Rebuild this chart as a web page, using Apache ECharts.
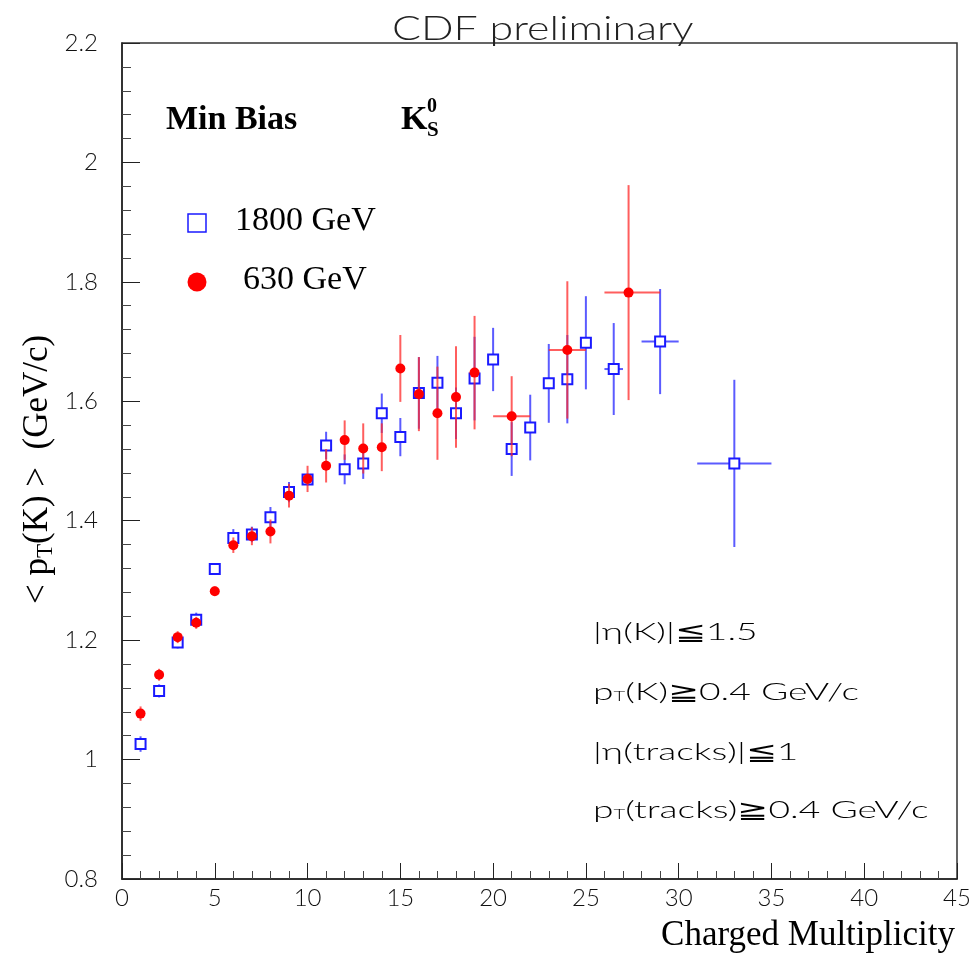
<!DOCTYPE html>
<html lang="en">
<head>
    <meta charset="UTF-8">
    <title>kshort pt</title>
    <script src="https://cdn.jsdelivr.net/npm/echarts@6/dist/echarts.min.js"></script>
    <style>body{margin:0;background:#fff}</style>
</head>
<body>
    <div id="main" style="width:976px;height:957px"></div>
<script>
    // 1800 GeV (blue open squares)
    blueX    = [1,2,3,4,5,6,7,8,9,10,11,12,13,14,15,16,17,18,19,20,21,22,23,24,25,26.5,29,33]
    blueY    = [1.026,1.115,1.196,1.234,1.319,1.371,1.377,1.406,1.448,1.469,1.526,1.486,1.496,1.580,1.540,1.614,1.631,1.580,1.638,1.670,1.520,1.556,1.630,1.637,1.698,1.654,1.700,1.496]
    blueErr  = [0.013,0.011,0.010,0.012,0.009,0.015,0.013,0.017,0.017,0.010,0.023,0.025,0.026,0.033,0.032,0.060,0.045,0.043,0.070,0.053,0.045,0.055,0.066,0.074,0.078,0.077,0.088,0.140]
    blueXLo  = [0,0,0,0,0,0,0,0,0,0,0,0,0,0,0,0,0,0,0,0,0,0,0,0,0,0.5,1,2]
    blueXHi  = [0,0,0,0,0,0,0,0,0,0,0,0,0,0,0,0,0,0,0,0,0,0,0,0,0,0.5,1,2]

    // 630 GeV (red full circles)
    redX     = [1,2,3,4,5,6,7,8,9,10,11,12,13,14,15,16,17,18,19,21,24,27.3]
    redY     = [1.077,1.142,1.205,1.229,1.282,1.359,1.374,1.382,1.442,1.470,1.492,1.535,1.521,1.523,1.655,1.612,1.580,1.607,1.648,1.575,1.686,1.782]
    redErr   = [0.012,0.010,0.010,0.010,0.008,0.013,0.015,0.020,0.020,0.022,0.028,0.033,0.042,0.040,0.056,0.062,0.078,0.085,0.095,0.067,0.115,0.180]
    redXLo   = [0,0,0,0,0,0,0,0,0,0,0,0,0,0,0,0,0,0,0,1,1,1.3]
    redXHi   = [0,0,0,0,0,0,0,0,0,0,0,0,0,0,0,0,0,0,0,1,1,1.7]

    xTicks = [0,5,10,15,20,25,30,35,40,45]
    yTicks = [0.8,1,1.2,1.4,1.6,1.8,2,2.2]

    thin = 'Lato'
    serif = 'Liberation Serif'

    pack = (X,Y,E,L,H)=>X.map((x,i)=>[x,Y[i],E[i],L[i],H[i]])

    errSeries = (name,data,kind,lineColor,markColor)=>({
        name, type:'custom', data, clip:true,
        renderItem:(params,api)=>{
            let x=api.value(0), y=api.value(1), e=api.value(2), xl=api.value(3), xh=api.value(4)
            let c=api.coord([x,y]), t=api.coord([x,y+e]), b=api.coord([x,y-e])
            let l=api.coord([x-xl,y]), r=api.coord([x+xh,y])
            let ls={stroke:lineColor,lineWidth:2}
            let kids=[
                {type:'line',shape:{x1:t[0],y1:t[1],x2:b[0],y2:b[1]},style:ls},
            ]
            if (xl>0||xh>0) kids.push({type:'line',shape:{x1:l[0],y1:l[1],x2:r[0],y2:r[1]},style:ls})
            if (kind=='square'){
                kids.push({type:'rect',shape:{x:c[0]-5,y:c[1]-5,width:10,height:10},
                    style:{fill:'#fff',stroke:markColor,lineWidth:2}})
            } else {
                kids.push({type:'circle',shape:{cx:c[0],cy:c[1],r:5},style:{fill:markColor}})
            }
            return {type:'group',children:kids}
        }
    })

    // thin, wide-spaced labels (stretched horizontally)
    note = (x,y,text)=>({type:'text',x,y,scaleX:1.55,style:{text,verticalAlign:'middle',
        rich:{a:{fontFamily:thin,fontWeight:300,fontSize:24,color:'#222'},
              s:{fontFamily:thin,fontWeight:300,fontSize:13,color:'#222',padding:[9,0,0,0]}}}})

    let option = {
        backgroundColor:'#fff',
        animation:false,
        grid:{left:122,right:19,top:43,bottom:78,show:true,borderColor:'#333',borderWidth:1.5},
        xAxis:{
            type:'value', min:0, max:45, interval:5,
            axisLine:{show:true,lineStyle:{color:'#222',width:1.5}},
            axisTick:{show:true,inside:true,length:16,lineStyle:{color:'#222'}},
            minorTick:{show:true,splitNumber:5,length:8,lineStyle:{color:'#444'}},
            splitLine:{show:false},
            axisLabel:{fontFamily:thin,fontWeight:300,fontSize:24,color:'#111',margin:7,
                formatter:v=>xTicks.includes(v)?String(v):''}
        },
        yAxis:{
            type:'value', min:0.8, max:2.2, interval:0.2,
            axisLine:{show:true,lineStyle:{color:'#222',width:1.5}},
            axisTick:{show:true,inside:true,length:18,lineStyle:{color:'#222'}},
            minorTick:{show:true,splitNumber:5,length:9,lineStyle:{color:'#444'}},
            splitLine:{show:false},
            axisLabel:{fontFamily:thin,fontWeight:300,fontSize:24,color:'#111',margin:24,
                formatter:v=>{let k=yTicks.find(t=>Math.abs(t-v)<1e-6); return k===undefined?'':String(k)}}
        },
        graphic:[
            {type:'text',x:392,y:29,scaleX:1.3,style:{text:'CDF preliminary',font:'300 33px Lato',fill:'#222',verticalAlign:'middle'}},
            {type:'text',x:166,y:103,style:{text:'Min Bias',font:'bold 34px "Liberation Serif"',fill:'#000'}},
            {type:'text',x:401,y:103,style:{text:'K',font:'bold 34px "Liberation Serif"',fill:'#000'}},
            {type:'text',x:427,y:97,style:{text:'0',font:'bold 20px "Liberation Serif"',fill:'#000'}},
            {type:'text',x:427,y:120,style:{text:'S',font:'bold 21px "Liberation Serif"',fill:'#000'}},
            {type:'rect',shape:{x:188,y:214,width:18,height:18},style:{fill:'#fff',stroke:'#1a1aff',lineWidth:1.5}},
            {type:'text',x:235,y:204,style:{text:'1800 GeV',font:'34px "Liberation Serif"',fill:'#000'}},
            {type:'circle',shape:{cx:197,cy:282,r:9.5},style:{fill:'#ff0000'}},
            {type:'text',x:243,y:263,style:{text:'630 GeV',font:'34px "Liberation Serif"',fill:'#000'}},
            {type:'text',x:955,y:918,style:{text:'Charged Multiplicity',font:'35px "Liberation Serif"',fill:'#000',align:'right'}},
            {type:'text',x:19,y:604,rotation:Math.PI/2,style:{
                text:'{a|< p}{s|T}{a|(K) >  (GeV/c)}',
                rich:{a:{fontFamily:serif,fontSize:35,color:'#000'},
                      s:{fontFamily:serif,fontSize:23,color:'#000',padding:[15,0,0,0]}}}},
            note(593,632,'{a|\u007Cη(K)\u007C≦1.5}'),
            note(593,692,'{a|p}{s|T}{a|(K)≧0.4 GeV/c}'),
            note(593,752,'{a|\u007Cη(tracks)\u007C≦1}'),
            note(593,810,'{a|p}{s|T}{a|(tracks)≧0.4 GeV/c}')
        ],
        series:[
            errSeries('1800 GeV',pack(blueX,blueY,blueErr,blueXLo,blueXHi),'square','rgba(50,50,255,0.8)','#1a1aff'),
            errSeries('630 GeV',pack(redX,redY,redErr,redXLo,redXHi),'circle','rgba(255,40,40,0.75)','#ff0000')
        ]
    }

    let myChart = echarts.init(document.getElementById('main'))
    myChart.setOption(option)
</script>
</body>
</html>
